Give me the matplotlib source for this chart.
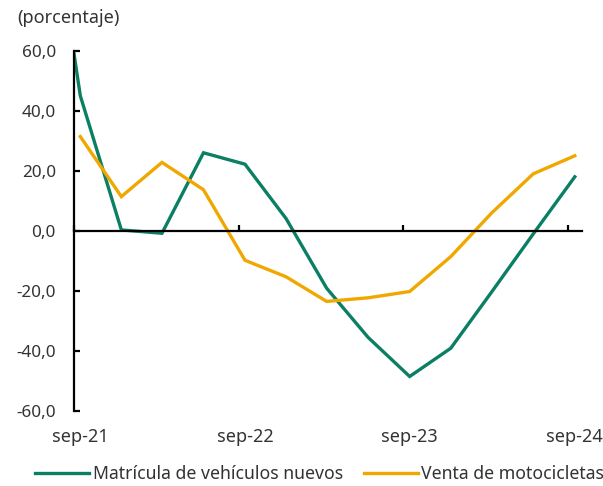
import numpy as np
import pandas as pd
import matplotlib
matplotlib.use("Agg")
import matplotlib.pyplot as plt
import matplotlib.dates as mdates
import matplotlib.transforms as mtransforms

plt.rcParams['font.family'] = ['Noto Sans', 'DejaVu Sans']

# datos trimestrales (variación anual, %)
fechas = pd.to_datetime(["2021-09-15", "2021-12-15", "2022-03-15", "2022-06-15",
                         "2022-09-15", "2022-12-15", "2023-03-15", "2023-06-15",
                         "2023-09-15", "2023-12-15", "2024-03-15", "2024-06-15",
                         "2024-09-15"])
matriculas = [45.0, 0.3, -0.8, 26.0, 22.2, 4.1, -19.1, -35.5, -48.5, -39.1, -20.3, -1.0, 18.0]
motos = [31.4, 11.4, 22.8, 13.7, -9.8, -15.3, -23.5, -22.3, -20.2, -8.6, 6.0, 19.0, 25.0]

# el trimestre anterior queda fuera del eje (jun-21)
fecha_previa = pd.to_datetime(["2021-06-15"])
matricula_previa = [137.0]

etiquetas_x = ["sep-21", "sep-22", "sep-23", "sep-24"]
yticks = [60, 40, 20, 0, -20, -40, -60]

verde = '#0B7F63'
naranja = '#F0A800'
gris = '#333333'

fig = plt.figure(figsize=(6.03, 4.86), dpi=100)
ax = fig.add_axes([0.1227, 0.1543, 0.8425, 0.7414])

x_verde = list(fecha_previa) + list(fechas)
y_verde = matricula_previa + matriculas
ax.plot(x_verde, y_verde, color=verde, lw=2.4, label="Matrícula de vehículos nuevos",
        solid_joinstyle='miter')
ax.plot(fechas, motos, color=naranja, lw=2.4, label="Venta de motocicletas",
        solid_joinstyle='miter')

ax.set_ylim(-60, 60)
ax.set_xlim(pd.Timestamp("2021-09-01"), pd.Timestamp("2024-10-01"))

ax.spines['top'].set_visible(False)
ax.spines['right'].set_visible(False)
ax.spines['bottom'].set_position(('data', 0))
ax.spines['left'].set_linewidth(1.6)
ax.spines['bottom'].set_linewidth(1.6)

ax.set_yticks(yticks)
ax.set_yticklabels([f"{v:.1f}".replace('.', ',') for v in yticks])
ax.tick_params(axis='y', direction='in', length=4, width=1.6, pad=13,
               labelsize=12.3, labelcolor=gris)

ticks_x = [pd.Timestamp(f"20{s[-2:]}-09-01") for s in etiquetas_x]
ax.set_xticks(ticks_x)
ax.tick_params(axis='x', direction='in', length=4, width=1.6, labelbottom=False)

trans = mtransforms.blended_transform_factory(ax.transData, ax.transAxes)
for f, lab in zip(fechas[::4], etiquetas_x):
    ax.text(f, -0.072, lab, transform=trans, ha='center', va='center',
            fontsize=13, color=gris)

fig.text(0.028, 0.963, "(porcentaje)", fontsize=13, color=gris, va='center', ha='left')

fig.legend(loc='center', bbox_to_anchor=(0.53, 0.025), ncol=2, frameon=False,
           fontsize=12.7, handlelength=3.05, handletextpad=0.2, columnspacing=1.2,
           labelcolor=gris)

fig.savefig("out.png", dpi=100)
